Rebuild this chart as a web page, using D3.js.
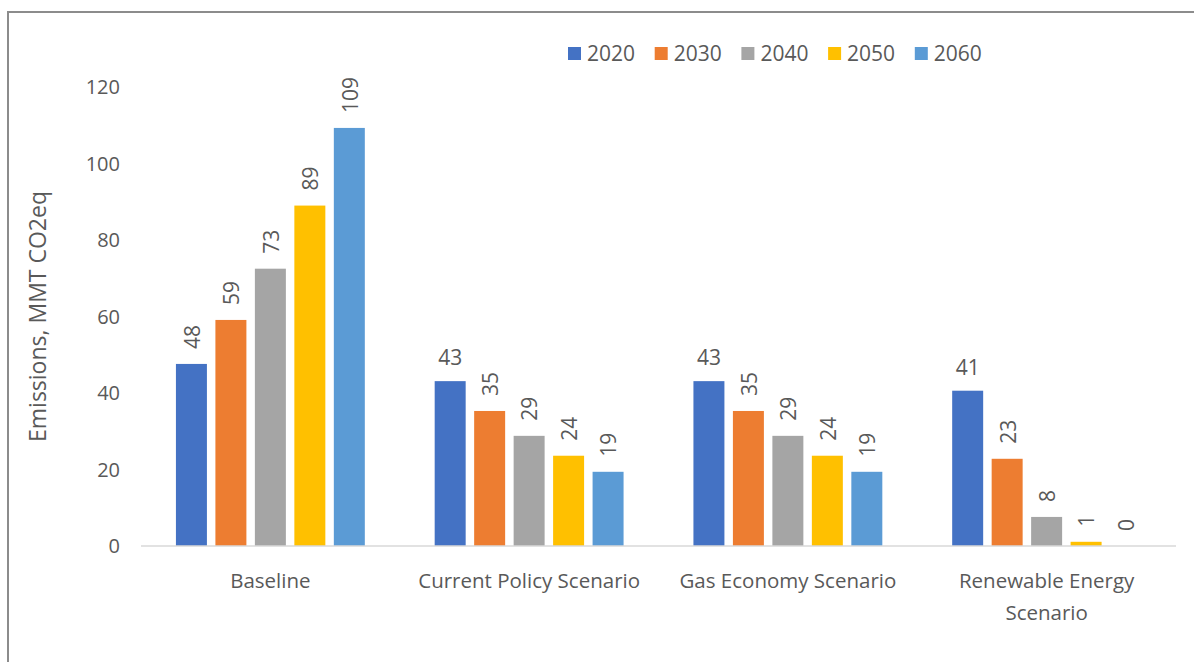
<!DOCTYPE html>
<meta charset="utf-8">
<script src="https://d3js.org/d3.v7.min.js"></script>
<style>
  body { margin: 0; background: #fff; }
  text { font-family: "Open Sans", "Liberation Sans", sans-serif; fill: #595959; }
</style>
<div id="chart"></div>
<script>

// data
const scenarios = ["Baseline", "Current Policy Scenario", "Gas Economy Scenario", "Renewable Energy Scenario"];
const years = ["2020", "2030", "2040", "2050", "2060"];
const baseline = [47.6, 59.1, 72.5, 89.0, 109.3];
const currentPolicy = [43.1, 35.3, 28.8, 23.6, 19.4];
const gasEconomy = [43.1, 35.3, 28.8, 23.6, 19.4];
const renewable = [40.6, 22.8, 7.6, 1.1, 0.0];
const yTicks = [0, 20, 40, 60, 80, 100, 120];

const colors = ["#4472c4", "#ed7d31", "#a5a5a5", "#ffc000", "#5b9bd5"];

const W = 1194, H = 662;
const svg = d3.select("#chart").append("svg")
    .attr("width", W)
    .attr("height", H);

// frame (left and top edges visible)
svg.append("path")
    .attr("d", `M8,${H} L8,12 L${W},12`)
    .attr("fill", "none")
    .attr("stroke", "#8c8c8c")
    .attr("stroke-width", 2);

const seriesByScenario = [baseline, currentPolicy, gasEconomy, renewable];
const data = scenarios.map((s, i) => ({
    scenario: s,
    values: years.map((y, j) => ({year: y, value: seriesByScenario[i][j], idx: j}))
}));

const x0 = d3.scaleBand()
    .domain(scenarios)
    .range([141, 1176])
    .paddingInner(0.27)
    .paddingOuter(0.135);

const x1 = d3.scaleBand()
    .domain(years)
    .range([0, x0.bandwidth()])
    .paddingInner(0.215)
    .paddingOuter(0);

const y = d3.scaleLinear()
    .domain([0, 120])
    .range([546, 87]);

// y tick labels
svg.append("g")
    .selectAll("text")
    .data(yTicks)
    .join("text")
    .attr("x", 120)
    .attr("y", d => y(d))
    .attr("dy", "0.35em")
    .attr("text-anchor", "end")
    .style("font-size", "20px")
    .text(d => d);

// y title
svg.append("text")
    .attr("transform", `translate(46,${(y(0) + y(120)) / 2}) rotate(-90)`)
    .attr("text-anchor", "middle")
    .style("font-size", "23px")
    .text("Emissions, MMT CO2eq");

// bars
const groups = svg.append("g")
    .selectAll("g")
    .data(data)
    .join("g")
    .attr("transform", d => `translate(${x0(d.scenario)},0)`);

groups.selectAll("rect")
    .data(d => d.values)
    .join("rect")
    .attr("x", d => x1(d.year))
    .attr("y", d => y(d.value))
    .attr("width", x1.bandwidth())
    .attr("height", d => y(0) - y(d.value))
    .attr("fill", d => colors[d.idx]);

// value labels: first bar of the later groups is horizontal, others rotated
groups.each(function(g, gi) {
    d3.select(this).selectAll("text.val")
        .data(g.values)
        .join("text")
        .attr("class", "val")
        .style("font-size", "21px")
        .attr("transform", d => {
            const cx = x1(d.year) + x1.bandwidth() / 2;
            if (gi > 0 && d.idx === 0) return `translate(${cx},${y(d.value) - 16})`;
            return `translate(${cx + 1},${y(d.value) - 15}) rotate(-90)`;
        })
        .attr("text-anchor", d => (gi > 0 && d.idx === 0) ? "middle" : "start")
        .attr("dy", d => (gi > 0 && d.idx === 0) ? 0 : "0.35em")
        .text(d => d3.format(".0f")(d.value));
});

// x axis line
svg.append("line")
    .attr("x1", 141).attr("x2", 1176)
    .attr("y1", y(0)).attr("y2", y(0))
    .attr("stroke", "#d9d9d9")
    .attr("stroke-width", 1.5);

// category labels, wrapped like the reference
const catLines = {
    "Baseline": ["Baseline"],
    "Current Policy Scenario": ["Current Policy Scenario"],
    "Gas Economy Scenario": ["Gas Economy Scenario"],
    "Renewable Energy Scenario": ["Renewable Energy", "Scenario"]
};
svg.append("g")
    .selectAll("text")
    .data(scenarios)
    .join("text")
    .attr("x", d => x0(d) + x0.bandwidth() / 2)
    .attr("y", 588)
    .attr("text-anchor", "middle")
    .style("font-size", "20.5px")
    .each(function(d) {
        d3.select(this).selectAll("tspan")
            .data(catLines[d])
            .join("tspan")
            .attr("x", x0(d) + x0.bandwidth() / 2)
            .attr("dy", (l, i) => i === 0 ? 0 : 32)
            .text(l => l);
    });

// legend
const legend = svg.append("g")
    .selectAll("g")
    .data(years)
    .join("g")
    .attr("transform", (d, i) => `translate(${568 + i * 86.7},47)`);

legend.append("rect")
    .attr("width", 13)
    .attr("height", 13)
    .attr("fill", (d, i) => colors[i]);

legend.append("text")
    .attr("x", 19)
    .attr("y", 7)
    .attr("dy", "0.35em")
    .style("font-size", "21px")
    .text(d => d);

</script>
